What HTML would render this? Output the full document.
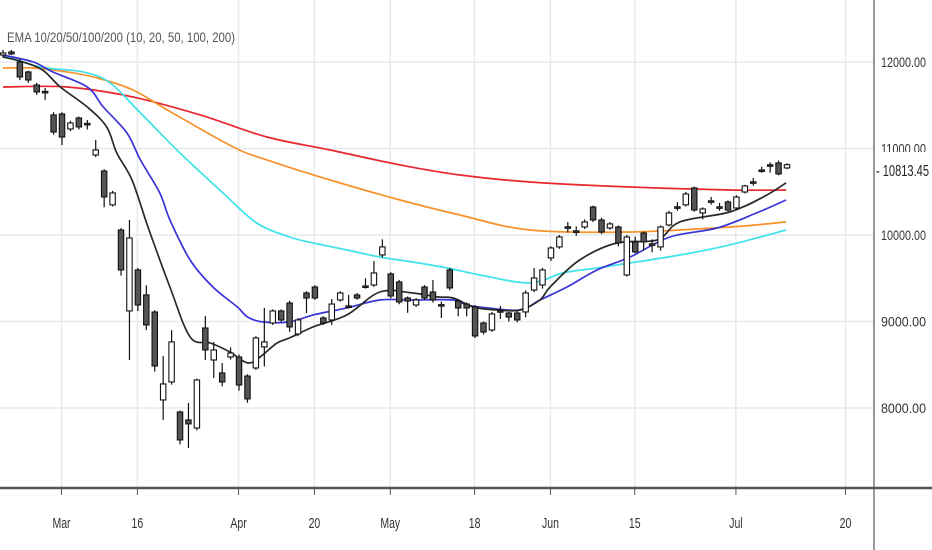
<!DOCTYPE html>
<html><head><meta charset="utf-8"><style>
html,body{margin:0;padding:0;background:#fff;width:932px;height:550px;overflow:hidden}
svg{display:block;font-family:"Liberation Sans",sans-serif}
</style></head><body>
<svg id="chart" width="932" height="550">
<g id="grid"></g>
<g id="lines"></g>
<g id="candles"></g>
<g id="axes"></g>
<text x="7" y="42" font-size="14" fill="#555" textLength="228" lengthAdjust="spacingAndGlyphs">EMA 10/20/50/100/200 (10, 20, 50, 100, 200)</text>
</svg>
<script>
const opens=[12081,12116,12000,11885,11734,11660,11388,11399,11226,11353,11290,10925,10740,10348,10058,9122,9596,9307,9110,8093,8301,7954,7862,7769,8925,8555,8405,8590,8590,8370,8463,8706,8983,9122,9214,8856,9330,9399,9041,9018,9249,9180,9307,9411,9422,9769,9550,9457,9272,9191,9399,9341,9195,9596,9237,9202,9168,8983,8902,9125,9098,9098,9110,9364,9422,9735,9862,10095,10048,10093,10324,10174,10081,10093,9538,9920,10023,9898,9862,10116,10326,10348,10544,10255,10395,10326,10382,10312,10497,10615,10752,10812,10833,10775];
const closes=[12104,12093,11827,11792,11654,11650,11191,11133,11295,11249,11280,10983,10440,10486,9596,9966,9191,8960,8486,8278,8764,7631,7816,8324,8671,8671,8301,8636,8266,8105,8810,8764,9122,9018,8937,9018,9272,9272,8983,9202,9330,9168,9272,9405,9561,9862,9295,9226,9237,9249,9272,9249,9185,9388,9156,9156,8833,8879,9087,9118,9052,9018,9330,9503,9596,9850,9977,10090,10043,10151,10174,10035,10128,9908,9977,9804,9920,9894,10093,10255,10322,10474,10289,10301,10391,10322,10289,10439,10567,10611,10740,10808,10706,10813];
const highs=[12140,12140,12030,11900,11760,11700,11420,11420,11320,11370,11330,11100,10760,10510,10080,10174,9620,9420,9130,8602,8900,7970,8058,8340,9064,8764,8520,8700,8620,8390,8830,9156,9140,9140,9240,9040,9350,9420,9060,9260,9350,9307,9330,9500,9700,9950,9570,9480,9290,9270,9420,9480,9230,9620,9260,9220,9190,9000,9110,9180,9110,9120,9360,9620,9620,9870,10000,10150,10100,10180,10340,10200,10150,10110,10000,9980,10040,9950,10110,10280,10380,10500,10560,10320,10440,10370,10400,10460,10580,10660,10790,10840,10860,10830];
const lows=[12050,12080,11790,11760,11620,11560,11160,11040,11200,11220,11220,10900,10320,10330,9530,8555,9120,8900,8420,7862,8270,7580,7538,7740,8555,8348,8250,8560,8200,8060,8440,8480,8960,8990,8880,8830,9098,9250,8960,8960,9230,9150,9250,9380,9400,9740,9270,9200,9100,9170,9250,9220,9041,9360,9060,9060,8810,8850,8880,9030,9000,8990,9050,9340,9380,9700,9840,10030,9990,10070,10150,10010,10060,9870,9520,9790,9820,9800,9820,10100,10280,10330,10270,10180,10350,10280,10270,10290,10480,10570,10720,10720,10690,10760];
const ema10Idx=[0,2.4,4.7,6.8,10,12.3,13.5,15.3,17.2,19.8,22.2,24.6,26.9,29,30.5,32.5,34,36.8,40.8,44.7,48.6,51.5,53.4,55.8,58.6,61.3,63.7,64.9,68.4,72.8,77.6,80.3,86.2,90.2,92.9];
const ema10=[12058,12000,11908,11711,11480,11249,10948,10636,10093,9399,8821,8752,8648,8521,8590,8752,8810,8937,9076,9341,9330,9284,9272,9168,9133,9133,9249,9399,9711,9908,9943,10151,10266,10440,10602];
const ema20Idx=[0,3.6,5.9,10,11.9,14.7,16.3,18.6,19.8,22.2,24.9,27.8,29,30.8,34,36.8,40.8,44.7,48.6,53.4,55,57.4,61.3,63.7,66.9,70.5,74.4,79.1,84.7,89.4,92.9];
const ema20=[12081,12000,11885,11711,11480,11180,10868,10486,10174,9711,9399,9168,9052,8995,8995,9076,9157,9249,9249,9249,9191,9157,9133,9249,9399,9596,9746,9977,10081,10255,10405];
const ema50Idx=[0,4.4,9.5,12.7,16.3,21,26.1,30.1,34,36.8,40.8,44.7,48.6,52.7,56.6,62.5,66.4,70.5,74.4,80.3,86.2,92.9];
const ema50=[12081,11943,11885,11758,11411,10948,10486,10139,9977,9908,9827,9746,9688,9619,9538,9446,9561,9619,9677,9769,9885,10058];
const ema100Idx=[0,3.6,7.6,11.2,15.4,19.5,27.3,31.3,38.8,47.1,54.2,62.5,74.4,86.2,92.9];
const ema100=[11931,11931,11885,11815,11677,11445,11018,10868,10636,10405,10231,10058,10035,10093,10151];
const ema200Idx=[0,7.6,15.4,23.4,31.3,38.8,47.1,54.2,62.5,74.4,86.2,92.9];
const ema200=[11711,11711,11596,11388,11133,10983,10810,10694,10613,10555,10520,10520];
const yTicks=[12000,11000,10000,9000,8000];
const xTickLabels=["Mar","16","Apr","20","May","18","Jun","15","Jul","20"];
const xTickPos=[7,16,28,37,46,56,65,75,87,100];

const NS="http://www.w3.org/2000/svg";
function yS(v){return 235-(v-10000)*0.0865;}
function xS(i){return 3+i*8.43;}
function mk(tag,attrs,parent){const e=document.createElementNS(NS,tag);for(const k in attrs)e.setAttribute(k,attrs[k]);parent.appendChild(e);return e;}
const grid=document.getElementById('grid'),lines=document.getElementById('lines'),cg=document.getElementById('candles'),ax=document.getElementById('axes');

yTicks.forEach(v=>{
  const l=mk('line',{x1:0,x2:874,y1:yS(v),y2:yS(v),stroke:'#e6eaee','stroke-width':1.5},grid);
  
  
  const t=mk('text',{x:881,y:yS(v)+5,'font-size':14,fill:'#333',textLength:45,lengthAdjust:'spacingAndGlyphs'},ax);
  t.textContent=v.toFixed(2);
  
  
});
xTickPos.forEach((p,k)=>{
  const x=xS(p)-0.5;
  const l=mk('line',{x1:x,x2:x,y1:0,y2:488,stroke:'#e6eaee','stroke-width':1.5},grid);
  
  
  const tk=mk('line',{x1:x,x2:x,y1:489,y2:495,stroke:'#555','stroke-width':1},ax);
  
  
  const t=mk('text',{x:x,y:528,'font-size':15,fill:'#333','text-anchor':'middle'},ax);
  t.textContent=xTickLabels[k];
  t.setAttribute('transform','translate('+x+' 0) scale(0.7 1) translate('+(-x)+' 0)');
  
  
});

function drawLine(idx,vals,color,name){
  const P=idx.map((p,k)=>[xS(p),yS(vals[k])]);
  let d='M'+P[0][0].toFixed(1)+','+P[0][1].toFixed(1);
  for(let k=0;k<P.length-1;k++){
    const p0=P[Math.max(0,k-1)],p1=P[k],p2=P[k+1],p3=P[Math.min(P.length-1,k+2)];
    const c1=[p1[0]+(p2[0]-p0[0])/6,p1[1]+(p2[1]-p0[1])/6];
    const c2=[p2[0]-(p3[0]-p1[0])/6,p2[1]-(p3[1]-p1[1])/6];
    d+=' C'+c1[0].toFixed(1)+','+c1[1].toFixed(1)+' '+c2[0].toFixed(1)+','+c2[1].toFixed(1)+' '+p2[0].toFixed(1)+','+p2[1].toFixed(1);
  }
  const pl=mk('path',{d:d,fill:'none',stroke:color,'stroke-width':1.7,'stroke-linejoin':'round'},lines);
  
  
}
drawLine(ema200Idx,ema200,'#e8262b','ema-200-line');
drawLine(ema100Idx,ema100,'#f7922a','ema-100-line');
drawLine(ema50Idx,ema50,'#3ee3ea','ema-50-line');
drawLine(ema20Idx,ema20,'#3a34d6','ema-20-line');
drawLine(ema10Idx,ema10,'#2a2a2a','ema-10-line');

opens.forEach((o,i)=>{
  const c=closes[i],x=xS(i);
  const g=mk('g',{},cg);
  
  
  mk('line',{x1:x,x2:x,y1:yS(highs[i]),y2:yS(lows[i]),stroke:'#111','stroke-width':1.2},g);
  const top=yS(Math.max(o,c)),bot=yS(Math.min(o,c));
  mk('rect',{x:x-2.7,y:top,width:5.4,height:Math.max(1.5,bot-top),fill:c<o?'#555':'#fff',stroke:'#111','stroke-width':1.1},g);
});

const axl=mk('line',{x1:0,x2:932,y1:488,y2:488,stroke:'#555','stroke-width':2.5},ax);


const ayl=mk('line',{x1:874,x2:874,y1:0,y2:550,stroke:'#555','stroke-width':1.2},ax);


const box=mk('rect',{x:875,y:152,width:57,height:32,fill:'#fff'},ax);


const lp=mk('text',{x:876,y:176,'font-size':16,fill:'#222',textLength:53,lengthAdjust:'spacingAndGlyphs'},ax);
lp.textContent='- 10813.45';


</script>
</body></html>
